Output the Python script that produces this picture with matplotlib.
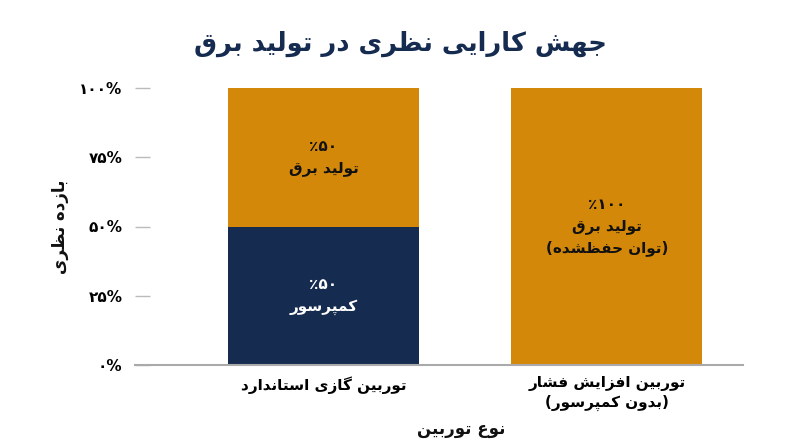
import matplotlib
matplotlib.use("Agg")
import matplotlib.pyplot as plt

# ---------------- data ----------------
categories = ["توربین گازی استاندارد", "توربین افزایش فشار\n(بدون کمپرسور)"]
compressor = [50, 0]
electricity = [50, 100]
compressor_labels = ["٪۵۰\nکمپرسور", ""]
electricity_labels = ["٪۵۰\nتولید برق", "٪۱۰۰\nتولید برق\n(توان حفظشده)"]
yticks = [0, 25, 50, 75, 100]
ytick_labels = ["۰%", "۲۵%", "۵۰%", "۷۵%", "۱۰۰%"]
title = "جهش کارایی نظری در تولید برق"
ylabel = "بازده نظری"
xlabel = "نوع توربین"

# ---------------- simple Persian shaping ----------------
FORMS = {  # isolated, final, initial, medial
    'ب': ('\uFE8F', '\uFE90', '\uFE91', '\uFE92'),
    'پ': ('\uFB56', '\uFB57', '\uFB58', '\uFB59'),
    'ت': ('\uFE95', '\uFE96', '\uFE97', '\uFE98'),
    'ج': ('\uFE9D', '\uFE9E', '\uFE9F', '\uFEA0'),
    'ح': ('\uFEA1', '\uFEA2', '\uFEA3', '\uFEA4'),
    'س': ('\uFEB1', '\uFEB2', '\uFEB3', '\uFEB4'),
    'ش': ('\uFEB5', '\uFEB6', '\uFEB7', '\uFEB8'),
    'ظ': ('\uFEC5', '\uFEC6', '\uFEC7', '\uFEC8'),
    'ع': ('\uFEC9', '\uFECA', '\uFECB', '\uFECC'),
    'ف': ('\uFED1', '\uFED2', '\uFED3', '\uFED4'),
    'ق': ('\uFED5', '\uFED6', '\uFED7', '\uFED8'),
    'ک': ('\uFB8E', '\uFB8F', '\uFB90', '\uFB91'),
    'گ': ('\uFB92', '\uFB93', '\uFB94', '\uFB95'),
    'ل': ('\uFEDD', '\uFEDE', '\uFEDF', '\uFEE0'),
    'م': ('\uFEE1', '\uFEE2', '\uFEE3', '\uFEE4'),
    'ن': ('\uFEE5', '\uFEE6', '\uFEE7', '\uFEE8'),
    'ه': ('\uFEE9', '\uFEEA', '\uFEEB', '\uFEEC'),
    'ی': ('\uFBFC', '\uFBFD', '\uFBFE', '\uFBFF'),
    'ا': ('\uFE8D', '\uFE8E', None, None),
    'د': ('\uFEA9', '\uFEAA', None, None),
    'ر': ('\uFEAD', '\uFEAE', None, None),
    'ز': ('\uFEAF', '\uFEB0', None, None),
    'و': ('\uFEED', '\uFEEE', None, None),
}
MIRROR = {'(': ')', ')': '('}


def _dual(c):
    return c in FORMS and FORMS[c][2] is not None


def _shape_line(s):
    out = []
    n = len(s)
    for i, c in enumerate(s):
        if c not in FORMS:
            out.append(c)
            continue
        jp = i > 0 and _dual(s[i - 1])
        jn = _dual(c) and i + 1 < n and s[i + 1] in FORMS
        f = FORMS[c]
        if jp and jn:
            out.append(f[3])
        elif jp:
            out.append(f[1])
        elif jn:
            out.append(f[2])
        else:
            out.append(f[0])
    return ''.join(MIRROR.get(ch, ch) for ch in reversed(out))


def _is_ltr(ch):
    return ch.isdigit() or ch in '%٪'


def fa(s):
    lines = []
    for line in s.split('\n'):
        if all(_is_ltr(ch) for ch in line):
            lines.append(line)
        else:
            lines.append(_shape_line(line))
    return '\n'.join(lines)


plt.rcParams['font.family'] = ['DejaVu Sans']
plt.rcParams['font.weight'] = 'bold'

ORANGE = '#D4880A'
NAVY = '#152B4F'

fig = plt.figure(figsize=(8, 4.47), dpi=100)
ax = fig.add_axes([135 / 800, 1 - 365 / 447, (743 - 135) / 800, (365 - 88) / 447])

x = list(range(len(categories)))
w = 0.674
ax.bar(x, compressor, width=w, color=NAVY, zorder=2)
ax.bar(x, electricity, width=w, bottom=compressor, color=ORANGE, zorder=2)

for i in x:
    if compressor[i] > 0:
        ax.text(i, compressor[i] / 2, fa(compressor_labels[i]), ha='center', va='center',
                color='white', fontsize=11, fontweight='bold', linespacing=1.55, zorder=3)
    if electricity[i] > 0:
        ax.text(i, compressor[i] + electricity[i] / 2, fa(electricity_labels[i]), ha='center',
                va='center', color='#111111', fontsize=11, fontweight='bold', linespacing=1.55,
                zorder=3)

ax.set_xlim(-0.665, 1.48)
ax.set_ylim(0, 100)
ax.set_yticks(yticks)
ax.set_yticklabels(ytick_labels, fontsize=11, fontweight='bold')
ax.set_xticks(x)
ax.set_xticklabels([fa(c) for c in categories], fontsize=11, fontweight='bold', linespacing=1.35)
ax.tick_params(axis='y', direction='in', length=11, width=1, color='#BBBBBB', pad=9)
ax.tick_params(axis='x', length=0, pad=8)

for s in ['top', 'right', 'left']:
    ax.spines[s].set_visible(False)
ax.spines['bottom'].set_color('#AAAAAA')
ax.spines['bottom'].set_linewidth(1.5)
ax.spines['bottom'].set_zorder(4)

fig.text(0.5, 1 - 44 / 447, fa(title), ha='center', va='center', fontsize=18.5,
         fontweight='bold', color=NAVY)
fig.text(60 / 800, 1 - 227 / 447, fa(ylabel), ha='center', va='center', rotation=90,
         fontsize=12, fontweight='bold', color='#111111')
fig.text(461 / 800, 1 - 429 / 447, fa(xlabel), ha='center', va='center', fontsize=12,
         fontweight='bold', color='#111111')

fig.savefig('out.png', dpi=100)
